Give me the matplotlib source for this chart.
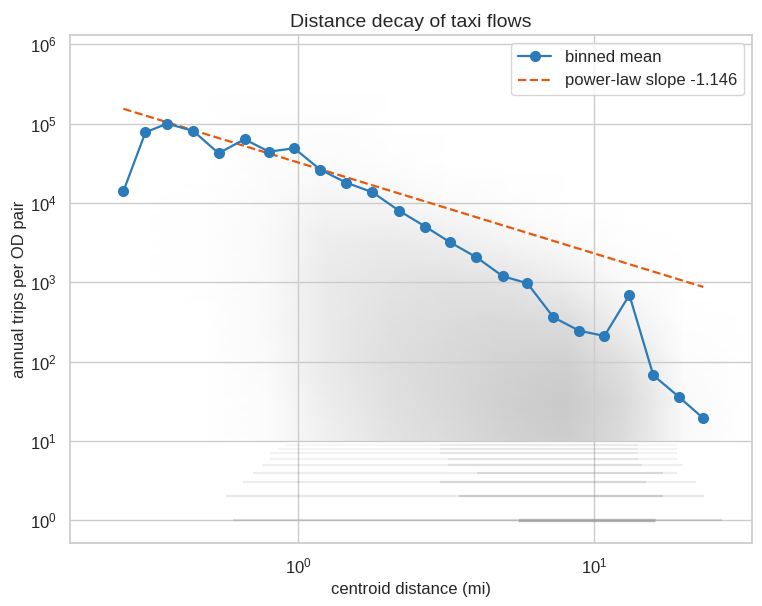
import matplotlib
matplotlib.use("Agg")
import matplotlib.pyplot as plt
import numpy as np
import seaborn as sns
from matplotlib.colors import LinearSegmentedColormap

# binned mean of annual trips per OD pair, by centroid distance (mi)
bin_distance = [0.256, 0.304, 0.360, 0.441, 0.537, 0.657, 0.794, 0.967, 1.184, 1.449,
                1.778, 2.194, 2.686, 3.254, 3.995, 4.903, 5.936, 7.27, 8.88, 10.81,
                13.13, 15.82, 19.37, 23.35]
bin_mean_trips = [14100, 78200, 100300, 81100, 42500, 63800, 44500, 49100, 26400, 18100,
                  13700, 7950, 5040, 3200, 2070, 1195, 975, 363, 246, 211,
                  693, 67.4, 35.6, 19.3]

# power-law fit: trips = A * distance ** slope
fit_slope = -1.146
fit_coef = 32400

# background cloud of OD pairs, as a coarse density
cloud_log_distance = [-0.7, -0.5, -0.3, -0.1, 0.1, 0.3, 0.5, 0.7, 0.9, 1.1, 1.3, 1.5]
cloud_log_trips = [1.0, 1.5, 2.0, 2.5, 3.0, 3.5, 4.0, 4.5, 5.0, 5.5, 6.0]
cloud_density = [
    [0.00, 0.00, 0.00, 0.05, 0.25, 0.45, 0.60, 0.75, 0.85, 0.60, 0.10, 0.00],
    [0.00, 0.00, 0.00, 0.06, 0.30, 0.50, 0.65, 0.80, 0.90, 0.65, 0.10, 0.00],
    [0.00, 0.00, 0.01, 0.08, 0.35, 0.55, 0.65, 0.75, 0.80, 0.50, 0.05, 0.00],
    [0.00, 0.00, 0.01, 0.10, 0.35, 0.50, 0.60, 0.65, 0.60, 0.25, 0.02, 0.00],
    [0.00, 0.00, 0.02, 0.10, 0.35, 0.45, 0.50, 0.45, 0.30, 0.08, 0.00, 0.00],
    [0.00, 0.00, 0.02, 0.10, 0.30, 0.35, 0.30, 0.18, 0.08, 0.02, 0.00, 0.00],
    [0.00, 0.00, 0.02, 0.08, 0.18, 0.15, 0.08, 0.03, 0.01, 0.00, 0.00, 0.00],
    [0.00, 0.00, 0.01, 0.05, 0.07, 0.04, 0.01, 0.00, 0.00, 0.00, 0.00, 0.00],
    [0.00, 0.00, 0.01, 0.03, 0.03, 0.01, 0.00, 0.00, 0.00, 0.00, 0.00, 0.00],
    [0.00, 0.00, 0.00, 0.01, 0.01, 0.00, 0.00, 0.00, 0.00, 0.00, 0.00, 0.00],
    [0.00, 0.00, 0.00, 0.00, 0.00, 0.00, 0.00, 0.00, 0.00, 0.00, 0.00, 0.00],
]

# low integer trip counts show up as horizontal streaks
streak_trips = [1, 2, 3, 4, 5, 6, 7, 8, 9]
streak_start = [0.6, 0.57, 0.65, 0.7, 0.75, 0.8, 0.8, 0.85, 0.9]
streak_core_start = [5.5, 3.5, 3.0, 4.0, 3.2, 3.2, 3.0, 3.0, 3.0]
streak_core_end = [16.0, 17.0, 15.0, 17.0, 14.5, 14.0, 14.0, 14.0, 14.0]
streak_end = [27.0, 23.5, 22.0, 19.0, 20.0, 19.0, 19.0, 19.0, 19.0]
streak_strength = [0.55, 0.4, 0.32, 0.3, 0.26, 0.22, 0.2, 0.18, 0.16]

sns.set_theme(style="whitegrid")
plt.rcParams["font.family"] = ["Liberation Sans", "DejaVu Sans"]

fig = plt.figure(figsize=(7.62, 6.06), dpi=100)
ax = fig.add_axes([0.0919, 0.104, 0.895, 0.838])
ax.set_xscale("log")
ax.set_yscale("log")

gray_cmap = LinearSegmentedColormap.from_list("cloud", ["#ffffff", "#c4c4c4"])
gx = np.power(10.0, cloud_log_distance)
gy = np.power(10.0, cloud_log_trips)
ax.pcolormesh(gx, gy, np.array(cloud_density), shading="gouraud",
              cmap=gray_cmap, vmin=0, vmax=1.0, zorder=0.2, rasterized=True)

for k, x0, c0, c1, x1, s in zip(streak_trips, streak_start, streak_core_start,
                                streak_core_end, streak_end, streak_strength):
    ax.hlines(k, x0, c0, color="0.5", alpha=s * 0.45, lw=1.6, zorder=1)
    ax.hlines(k, c0, c1, color="0.5", alpha=s, lw=1.6 if k > 1 else 2.4, zorder=1)
    ax.hlines(k, c1, x1, color="0.5", alpha=s * 0.45, lw=1.6, zorder=1)

ax.plot(bin_distance, bin_mean_trips, "-o", color="#2b7bba", lw=1.6, ms=7,
        label="binned mean", zorder=3)
fit_x = np.array([bin_distance[0], bin_distance[-1]])
ax.plot(fit_x, fit_coef * fit_x ** fit_slope, "--", color="#e8590c", lw=1.6,
        label=f"power-law slope {fit_slope:.3f}", zorder=2)

ax.set_xlim(0.169, 34.1)
ax.set_ylim(0.518, 1.31e6)
ax.set_xlabel("centroid distance (mi)", fontsize=12)
ax.set_ylabel("annual trips per OD pair", fontsize=12, labelpad=2)
ax.set_title("Distance decay of taxi flows", fontsize=14)
ax.tick_params(axis="both", which="major", labelsize=12)
ax.grid(True, which="major", color="0.8", zorder=0.5)
ax.legend(loc="upper right", fontsize=12, frameon=True)

fig.savefig("out.png", dpi=100)
